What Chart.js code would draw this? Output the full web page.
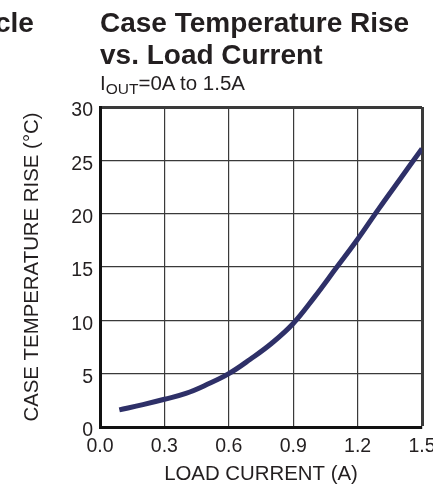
<!DOCTYPE html>
<html>
<head>
<meta charset="utf-8">
<script src="https://cdn.jsdelivr.net/npm/chart.js@4"></script>
<style>
  body { margin: 0; background: #fff; }
  #wrap { position: relative; width: 433px; height: 485px; overflow: hidden; font-family: "Liberation Sans", Arial, sans-serif; color: #231f20; }
  #cut { position: absolute; left: -5px; top: 7.3px; font-weight: bold; font-size: 28px; line-height: 32px; }
  #title { position: absolute; left: 100px; top: 7.3px; font-weight: bold; font-size: 28px; line-height: 32px; white-space: nowrap; }
  #sub { position: absolute; left: 100px; top: 73.3px; font-size: 20.5px; line-height: 20.5px; white-space: nowrap; }
  #sub sub { font-size: 15.5px; vertical-align: -4.3px; line-height: 0; }
  canvas { position: absolute; left: 0; top: 0; }
</style>
</head>
<body>
<div id="wrap">
  <canvas id="myChart" width="433" height="485"></canvas>
  <div id="cut">cle</div>
  <div id="title">Case Temperature Rise<br>vs. Load Current</div>
  <div id="sub">I<sub>OUT</sub>=0A to 1.5A</div>
</div>
<script>
// load current (A) and case temperature rise (°C)
const loadCurrent = [0.09, 0.2, 0.3, 0.4, 0.5, 0.6, 0.7, 0.8, 0.9, 1.0, 1.1, 1.2, 1.3, 1.4, 1.5];
const tempRise = [1.6, 2.1, 2.6, 3.15, 4.0, 5.0, 6.35, 7.85, 9.7, 12.2, 14.9, 17.6, 20.5, 23.3, 26.1];

const xTicks = [0, 0.3, 0.6, 0.9, 1.2, 1.5];
const yTicks = [0, 5, 10, 15, 20, 25, 30];

const points = loadCurrent.map((x, i) => ({ x: x, y: tempRise[i] }));
const textColor = '#231f20';
const fontFamily = '"Liberation Sans", Arial, sans-serif';

new Chart("myChart", {
  type: 'scatter',
  data: {
    datasets: [
      {
        data: points,
        showLine: true,
        borderColor: '#2e3068',
        borderWidth: 5,
        pointRadius: 0,
        tension: 0.4,
      },
    ],
  },
  options: {
    responsive: false,
    animation: false,
    devicePixelRatio: 1,
    layout: { padding: { top: 107, right: 11, left: 0, bottom: 0 } },
    plugins: { legend: { display: false }, tooltip: { enabled: false } },
    scales: {
      x: {
        type: 'linear',
        min: 0,
        max: 1.5,
        afterBuildTicks: (scale) => { scale.ticks = xTicks.map((v) => ({ value: v })); },
        afterFit: (scale) => { scale.height = 58; scale.paddingLeft = 0; scale.paddingRight = 0; },
        ticks: {
          color: textColor,
          font: { family: fontFamily, size: 19.5 },
          padding: 8,
          callback: (v) => v.toFixed(1),
        },
        grid: {
          color: '#3a3a3a',
          lineWidth: (ctx) => (ctx.tick && ctx.tick.value === 1.5 ? 3 : 1.2),
          drawTicks: false,
        },
        border: { color: '#111', width: 3 },
        title: {
          display: true,
          text: 'LOAD CURRENT (A)',
          color: textColor,
          font: { family: fontFamily, size: 20.4, lineHeight: 1 },
          padding: { top: 0, bottom: 0 },
        },
      },
      y: {
        type: 'linear',
        min: 0,
        max: 30,
        afterBuildTicks: (scale) => { scale.ticks = yTicks.map((v) => ({ value: v })); },
        afterFit: (scale) => { scale.width = 100; },
        ticks: {
          color: textColor,
          font: { family: fontFamily, size: 19.5 },
          padding: 7,
          labelOffset: 4,
        },
        grid: {
          color: '#3a3a3a',
          lineWidth: (ctx) => (ctx.tick && ctx.tick.value === 30 ? 3 : 1.2),
          drawTicks: false,
        },
        border: { color: '#111', width: 3 },
        title: {
          display: true,
          text: 'CASE TEMPERATURE RISE (°C)',
          color: textColor,
          font: { family: fontFamily, size: 20.4, lineHeight: 1 },
          padding: { top: 22, bottom: 0 },
        },
      },
    },
  },
});
</script>
</body>
</html>
